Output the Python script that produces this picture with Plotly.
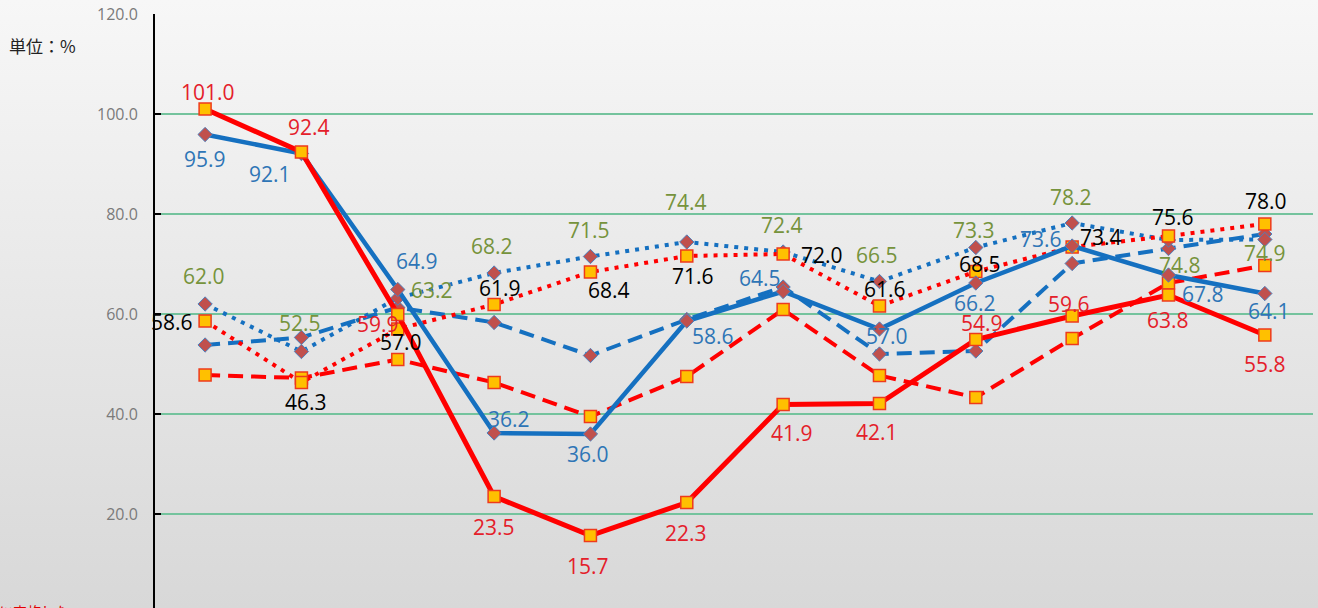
import base64
import plotly.graph_objects as go

# ---------------- data ----------------
categories = ["1月", "2月", "3月", "4月", "5月", "6月",
              "7月", "8月", "9月", "10月", "11月", "12月"]

red_solid = [101.0, 92.4, 59.9, 23.5, 15.7, 22.3, 41.9, 42.1, 54.9, 59.6, 63.8, 55.8]
blue_solid = [95.9, 92.1, 64.9, 36.2, 36.0, 58.6, 64.5, 57.0, 66.2, 73.6, 67.8, 64.1]
blue_dot = [62.0, 52.5, 63.2, 68.2, 71.5, 74.4, 72.4, 66.5, 73.3, 78.2, 74.8, 74.9]
red_dot = [58.6, 46.3, 57.0, 61.9, 68.4, 71.6, 72.0, 61.6, 68.5, 73.4, 75.6, 78.0]
red_dash = [47.8, 47.2, 50.9, 46.3, 39.5, 47.5, 60.9, 47.7, 43.3, 55.1, 66.2, 69.7]
blue_dash = [53.8, 55.3, 61.3, 58.3, 51.7, 58.9, 65.4, 52.0, 52.6, 70.1, 73.1, 76.0]

y_ticks = [0, 20, 40, 60, 80, 100, 120]
unit_text = "単位：%"
note_text = "に実施した"

# ---------------- styles ----------------
RED = "#ff0000"
BLUE = "#1570c0"
SQ_FILL = "#ffc000"
SQ_LINE = "#ee3a1c"
DI_FILL = "#c0504d"
DI_LINE = "#4f81bd"
LBL_RED = "#e4202a"
LBL_BLUE = "#2e75b6"
LBL_GREEN = "#76933c"
LBL_BLACK = "#000000"
GRID = "#74c39d"
FONT = "Open Sans, Noto Sans, sans-serif"
CJK = "Noto Sans CJK JP, sans-serif"

# label offsets in screen pixels (dx right, dy down) – layout only
red_solid_off = [(3, -17), (8, -25), (-20, 9), (0, 30), (-2, 30), (-1, 30),
                 (9, 28), (-2, 28), (6, -17), (-3, -12), (0, 25), (0, 29)]
blue_solid_off = [(0, 24), (-31, 20), (19, -29), (15, -14), (-2, 20), (26, 15),
                  (-23, -14), (8, 7), (-1, 20), (-31, -7), (35, 19), (4, 17)]
blue_dot_off = [(-1, -28), (-1, -29), (34, -8), (-2, -27), (-1, -27), (-1, -40),
                (-1, -27), (-2, -27), (-2, -18), (-1, -26), (12, 25), (0, 13)]
red_dot_off = [(-33, 1), (5, 19), (3, 13), (6, -17), (19, 18), (6, 20),
               (39, 1), (6, -17), (4, -8), (29, -10), (5, -19), (1, -23)]

W, H = 1318, 608
ML, MR, MT, MB = 155, 5, 14, 0
PW, PH = W - ML - MR, H - MT - MB

fig = go.Figure()

square = dict(symbol="square", size=12, color=SQ_FILL, line=dict(color=SQ_LINE, width=1.5))
diamond = dict(symbol="diamond", size=11, color=DI_FILL, line=dict(color=DI_LINE, width=1))


def add_line(vals, color, width, dash, marker, name):
    fig.add_trace(go.Scatter(
        x=categories, y=vals, mode="lines+markers", name=name,
        line=dict(color=color, width=width, dash=dash),
        marker=marker, showlegend=False, cliponaxis=False,
    ))


add_line(blue_dash, BLUE, 4, "15px,8px", diamond, "青・破線")
add_line(red_dash, RED, 4, "15px,8px", square, "赤・破線")
add_line(blue_dot, BLUE, 4, "4px,6px", diamond, "青・点線")
add_line(red_dot, RED, 4, "4px,6px", square, "赤・点線")
add_line(blue_solid, BLUE, 4.5, "solid", diamond, "青・実線")
add_line(red_solid, RED, 5, "solid", square, "赤・実線")

annotations = []


def add_labels(vals, offs, color):
    for c, v, (dx, dy) in zip(categories, vals, offs):
        annotations.append(dict(
            x=c, y=v, xref="x", yref="y", text=f"{v:.1f}", showarrow=False,
            xshift=dx, yshift=-dy, xanchor="center", yanchor="middle",
            font=dict(family=FONT, size=21, color=color),
        ))


add_labels(blue_dot, blue_dot_off, LBL_GREEN)
add_labels(red_dot, red_dot_off, LBL_BLACK)
add_labels(blue_solid, blue_solid_off, LBL_BLUE)
add_labels(red_solid, red_solid_off, LBL_RED)

# unit text and cut-off note
annotations.append(dict(
    x=(7 - ML) / PW, y=(H - MB - 45.5) / PH, xref="paper", yref="paper",
    text=unit_text, showarrow=False, xanchor="left", yanchor="middle",
    font=dict(family=CJK, size=17, color="#222222"),
))
annotations.append(dict(
    x=(-3 - ML) / PW, y=(H - MB - 599) / PH, xref="paper", yref="paper",
    text=note_text, showarrow=False, xanchor="left", yanchor="top",
    font=dict(family=CJK, size=14, color="#e00000"),
))
# the 0.0 tick label sits just below the visible area
annotations.append(dict(
    x=(139 - ML) / PW, y=0, xref="paper", yref="y",
    text=f"{y_ticks[0]:.1f}", showarrow=False, xanchor="right", yanchor="middle",
    font=dict(family=FONT, size=16, color="#7a7a7a"),
))

# background gradient (whole chart area)
svg = ('<svg xmlns="http://www.w3.org/2000/svg" width="10" height="100" '
       'viewBox="0 0 10 100" preserveAspectRatio="none">'
       '<defs><linearGradient id="g" x1="0" y1="0" x2="0" y2="1">'
       '<stop offset="0" stop-color="#f7f7f7"/>'
       '<stop offset="1" stop-color="#d8d8d8"/></linearGradient></defs>'
       '<rect x="0" y="0" width="10" height="100" fill="url(#g)"/></svg>')
src = "data:image/svg+xml;base64," + base64.b64encode(svg.encode()).decode()

fig.update_layout(
    width=W, height=H,
    margin=dict(l=ML, r=MR, t=MT, b=MB, pad=0),
    paper_bgcolor="#e8e8e8",
    plot_bgcolor="rgba(0,0,0,0)",
    annotations=annotations,
    images=[dict(
        source=src, xref="paper", yref="paper",
        x=-ML / PW, y=1 + MT / PH, sizex=W / PW, sizey=H / PH,
        xanchor="left", yanchor="top", sizing="stretch", layer="below",
    )],
    xaxis=dict(
        type="category", range=[-0.52, 11.5], showgrid=False, zeroline=False,
        showticklabels=False, ticks="", showline=False,
    ),
    yaxis=dict(
        range=[1.2, 120], tickvals=y_ticks, tickformat=".1f",
        showgrid=True, gridcolor=GRID, gridwidth=1.5, zeroline=False,
        showline=True, linecolor="#000000", linewidth=2,
        ticks="inside", ticklen=6, tickwidth=2, tickcolor="#000000",
        ticklabelstandoff=12,
        tickfont=dict(family=FONT, size=16, color="#7a7a7a"),
    ),
)

fig.write_html(
    "out.html",
    config={"displayModeBar": False},
    post_script="document.body.style.margin='0px';document.body.style.overflow='hidden';",
)
